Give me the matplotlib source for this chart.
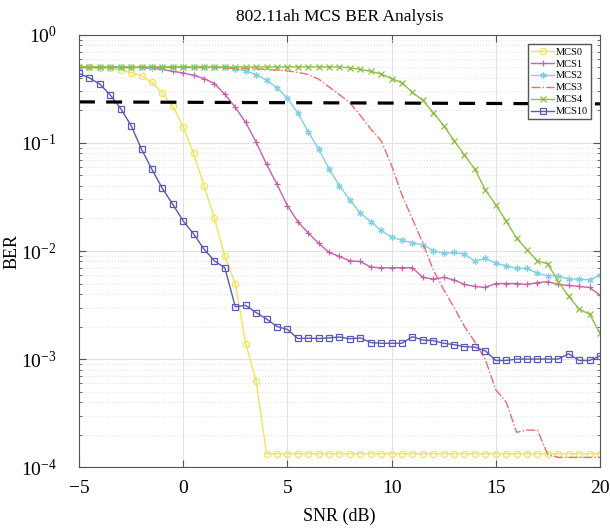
"""BER theo SNR cho các MCS của 802.11ah."""

import matplotlib

matplotlib.use("Agg")
import matplotlib.pyplot as plt
import numpy as np
from matplotlib.ticker import LogLocator, NullFormatter, FixedLocator

plt.rcParams["font.family"] = ["Liberation Serif", "DejaVu Serif"]
plt.rcParams["mathtext.fontset"] = "stix"

# SNR từ -5 đến 20 dB, bước 0.5 dB
snr_db = np.arange(-5, 20.5, 0.5)

ber_mcs0 = [
    0.50, 0.50, 0.495, 0.49, 0.475, 0.447, 0.417, 0.365, 0.287, 0.22,
    0.141, 0.080, 0.0403, 0.020, 0.0089, 0.0050, 0.00139, 0.000625, 0.000133, 0.000133,
    0.000133, 0.000133, 0.000133, 0.000133, 0.000133, 0.000133, 0.000133, 0.000133, 0.000133, 0.000133,
    0.000133, 0.000133, 0.000133, 0.000133, 0.000133, 0.000133, 0.000133, 0.000133, 0.000133, 0.000133,
    0.000133, 0.000133, 0.000133, 0.000133, 0.000133, 0.000133, 0.000133, 0.000133, 0.000133, 0.000133,
    0.000133,
]
ber_mcs1 = [
    0.50, 0.50, 0.50, 0.50, 0.50, 0.50, 0.50, 0.49, 0.48, 0.46,
    0.445, 0.423, 0.395, 0.355, 0.282, 0.214, 0.155, 0.102, 0.0636, 0.0415,
    0.0263, 0.0187, 0.0147, 0.0118, 0.0097, 0.0089, 0.0081, 0.0080, 0.0071, 0.0070,
    0.0070, 0.0070, 0.0070, 0.0057, 0.0055, 0.0057, 0.0054, 0.0049, 0.0047, 0.0046,
    0.0050, 0.0050, 0.0050, 0.0049, 0.0051, 0.0052, 0.0049, 0.0048, 0.0047, 0.0046,
    0.0039,
]
ber_mcs2 = [
    0.50, 0.50, 0.50, 0.50, 0.50, 0.50, 0.50, 0.50, 0.50, 0.50,
    0.50, 0.50, 0.50, 0.50, 0.50, 0.485, 0.465, 0.43, 0.38, 0.325,
    0.259, 0.19, 0.127, 0.088, 0.0575, 0.0402, 0.0296, 0.0224, 0.0187, 0.0155,
    0.0134, 0.0126, 0.0119, 0.0114, 0.0101, 0.0095, 0.0097, 0.0094, 0.0080, 0.0086,
    0.0077, 0.0073, 0.0069, 0.0069, 0.0062, 0.0059, 0.0059, 0.0055, 0.0055, 0.0054,
    0.0060,
]
ber_mcs3 = [
    0.50, 0.50, 0.50, 0.50, 0.50, 0.50, 0.50, 0.50, 0.50, 0.50,
    0.50, 0.50, 0.50, 0.50, 0.495, 0.49, 0.49, 0.485, 0.48, 0.472,
    0.465, 0.45, 0.43, 0.39, 0.33, 0.28, 0.235, 0.18, 0.135, 0.105,
    0.062, 0.033, 0.0198, 0.0118, 0.0067, 0.0044, 0.0030, 0.0020, 0.00144, 0.00099,
    0.00052, 0.00040, 0.00021, 0.00022, 0.00022, 0.00013, 0.000123, 0.000123, 0.000123, 0.000123,
    0.000123,
]
ber_mcs4 = [
    0.505, 0.505, 0.505, 0.505, 0.505, 0.505, 0.505, 0.505, 0.505, 0.505,
    0.505, 0.505, 0.505, 0.505, 0.505, 0.505, 0.505, 0.505, 0.505, 0.505,
    0.505, 0.505, 0.505, 0.505, 0.505, 0.505, 0.495, 0.48, 0.46, 0.435,
    0.395, 0.36, 0.294, 0.248, 0.191, 0.145, 0.105, 0.0774, 0.057, 0.0368,
    0.0268, 0.019, 0.0131, 0.0103, 0.0081, 0.0076, 0.0052, 0.0038, 0.0029, 0.0026,
    0.00175,
]
ber_mcs10 = [
    0.44, 0.40, 0.35, 0.278, 0.208, 0.145, 0.0875, 0.057, 0.038, 0.027,
    0.019, 0.0144, 0.0104, 0.0081, 0.0070, 0.00305, 0.00314, 0.00269, 0.00235, 0.0020,
    0.00188, 0.00155, 0.00156, 0.00155, 0.00157, 0.0016, 0.00154, 0.00157, 0.00142, 0.0014,
    0.0014, 0.0014, 0.00161, 0.0015, 0.00148, 0.0014, 0.00136, 0.0013, 0.00129, 0.00119,
    0.00097, 0.00097, 0.0010, 0.0010, 0.0010, 0.0010, 0.0010, 0.00112, 0.00097, 0.00097,
    0.00107,
]

# đường ngưỡng nét đứt
threshold_snr = [-5, 20]
threshold_ber = [0.24, 0.23]

# marker "*" kiểu MATLAB: dấu sao dạng nét
asterisk = (6, 2, 0)

series = [
    ("MCS0", ber_mcs0, "#f2e45a", "-", "o"),
    ("MCS1", ber_mcs1, "#c860ac", "-", "+"),
    ("MCS2", ber_mcs2, "#7fd0e2", "-", asterisk),
    ("MCS3", ber_mcs3, "#f26a6a", "-.", None),
    ("MCS4", ber_mcs4, "#8cc043", "-", "x"),
    ("MCS10", ber_mcs10, "#5a5ab4", "-", "s"),
]

fig = plt.figure(figsize=(6.10, 5.29), dpi=100)
ax = fig.add_axes([0.1295, 0.117, 0.854, 0.817])

for name, values, color, style, marker in series:
    ax.semilogy(
        snr_db,
        values,
        linestyle=style,
        color=color,
        linewidth=1.0,
        marker=marker,
        markersize=4.5,
        markerfacecolor="none",
        markeredgewidth=0.9,
        label=name,
    )

ax.semilogy(threshold_snr, threshold_ber, "--", color="black", linewidth=2.3, dashes=(5, 3.5))

ax.set_xlim(-5, 20)
ax.set_ylim(1e-4, 1)
ax.xaxis.set_major_locator(FixedLocator([-5, 0, 5, 10, 15, 20]))
ax.yaxis.set_major_locator(LogLocator(base=10, numticks=10))
ax.yaxis.set_minor_locator(LogLocator(base=10, subs=np.arange(2, 10), numticks=10))
ax.yaxis.set_minor_formatter(NullFormatter())

ax.grid(True, which="major", color="#e2e2e2", linewidth=0.8)
ax.grid(True, which="minor", axis="y", color="#e6e6e6", linestyle=":", linewidth=0.8)
ax.tick_params(which="both", direction="in", top=True, right=True, color="#555555")
ax.tick_params(which="major", labelsize=14, length=5)
ax.tick_params(axis="x", which="major", pad=9)
ax.tick_params(axis="y", which="major", pad=16)
ax.tick_params(which="minor", length=2.5)
for spine in ax.spines.values():
    spine.set_color("#555555")
    spine.set_linewidth(0.8)

ax.set_title("802.11ah MCS BER Analysis", fontsize=12.5, pad=10)
ax.set_xlabel("SNR (dB)", fontsize=13, labelpad=8)
ax.set_ylabel("BER", fontsize=13, labelpad=0)

ax.legend(
    loc="upper right",
    fontsize=7.5,
    frameon=True,
    fancybox=False,
    edgecolor="#555555",
    framealpha=1.0,
    handlelength=2.2,
    handletextpad=0.1,
    borderpad=0.3,
    labelspacing=0.25,
    borderaxespad=0.9,
)

fig.savefig("out.png", dpi=100)
